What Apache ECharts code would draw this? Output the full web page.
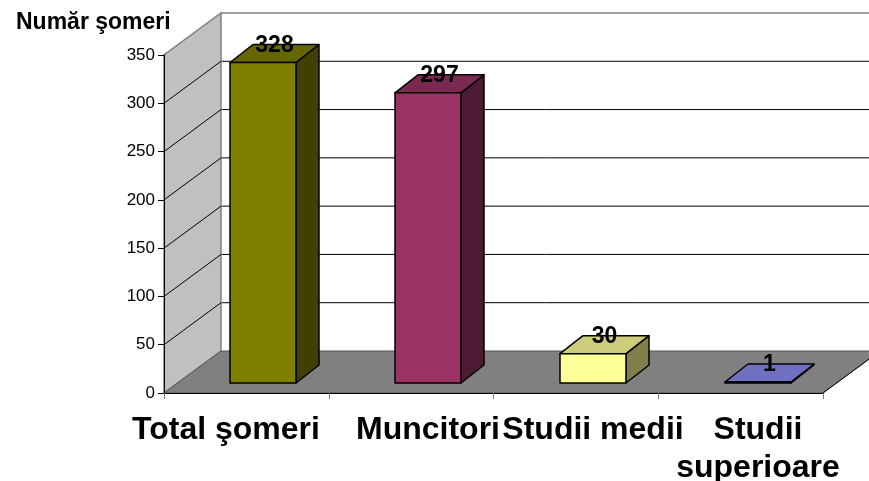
<!DOCTYPE html>
<html><head><meta charset="utf-8">
<script src="https://cdn.jsdelivr.net/npm/echarts/dist/echarts.min.js"></script>
<style>html,body{margin:0;padding:0;background:#fff}#c{width:869px;height:481px}</style>
</head><body><div id="c"></div>
<script>
const categories = ['Total şomeri', 'Muncitori', 'Studii medii', 'Studii superioare'];
const values = [328, 297, 30, 1];
const yMin = 0, yMax = 350, yStep = 50;
const frontColors = ['#808000', '#993366', '#ffff99', '#8c8cf2'];
const topColors = ['#666600', '#7a2952', '#cccc7a', '#7070c2'];
const sideColors = ['#404000', '#4d1a33', '#80804c', '#464679'];

const FONT = '"Liberation Sans", Arial, sans-serif';
const DX = 57, DY = -42;      // wall depth
const BDX = 23, BDY = -18;    // bar depth

const chart = echarts.init(document.getElementById('c'), null, {renderer: 'canvas'});

function wallsRender(params, api) {
  const cs = params.coordSys;
  const x0 = cs.x, xR = cs.x + cs.width;
  const y0 = api.coord([0, yMin])[1];
  const yT = api.coord([0, yMax])[1];
  const ch = [];
  ch.push({type: 'rect', shape: {x: x0 + DX, y: yT + DY, width: xR - x0 + 20, height: y0 - yT}, style: {fill: '#fff'}});
  for (let v = yMin + yStep; v < yMax; v += yStep) {
    const y = api.coord([0, v])[1];
    ch.push({type: 'line', shape: {x1: x0 + DX, y1: y + DY, x2: xR + DX + 20, y2: y + DY}, style: {stroke: '#000', lineWidth: 1}});
  }
  ch.push({type: 'line', shape: {x1: x0 + DX, y1: yT + DY, x2: xR + DX + 20, y2: yT + DY}, style: {stroke: '#808080', lineWidth: 1.5}});
  ch.push({type: 'polygon', shape: {points: [[x0, y0], [x0, yT], [x0 + DX, yT + DY], [x0 + DX, y0 + DY]]}, style: {fill: '#c0c0c0', stroke: '#808080', lineWidth: 1.5}});
  for (let v = yMin + yStep; v < yMax; v += yStep) {
    const y = api.coord([0, v])[1];
    ch.push({type: 'line', shape: {x1: x0, y1: y, x2: x0 + DX, y2: y + DY}, style: {stroke: '#000', lineWidth: 1}});
  }
  ch.push({type: 'polygon', shape: {points: [[x0, y0], [xR, y0], [xR + DX, y0 + DY], [x0 + DX, y0 + DY]]}, style: {fill: '#808080', stroke: '#555', lineWidth: 1}});
  ch.push({type: 'line', shape: {x1: xR, y1: y0, x2: xR + DX, y2: y0 + DY}, style: {stroke: '#000', lineWidth: 1}});
  return {type: 'group', children: ch};
}

function barRender(params, api) {
  const i = params.dataIndex;
  const p = api.coord([api.value(0), api.value(1)]);
  const b = api.coord([api.value(0), 0]);
  const w = api.size([1, 0])[0] * 0.4;
  const x1 = p[0] - w / 2, x2 = p[0] + w / 2, yt = p[1], yb = b[1];
  const s = {stroke: '#000', lineWidth: 1.5, lineJoin: 'round'};
  return {type: 'group', children: [
    {type: 'polygon', shape: {points: [[x2, yt], [x2 + BDX, yt + BDY], [x2 + BDX, yb + BDY], [x2, yb]]}, style: Object.assign({fill: sideColors[i]}, s)},
    {type: 'polygon', shape: {points: [[x1, yt], [x2, yt], [x2 + BDX, yt + BDY], [x1 + BDX, yt + BDY]]}, style: Object.assign({fill: topColors[i]}, s)},
    {type: 'rect', shape: {x: x1, y: yt, width: w, height: Math.max(yb - yt, 0.5)}, style: Object.assign({fill: frontColors[i]}, s)},
    {type: 'text', style: {text: String(api.value(1)), x: p[0] + BDX / 2, y: yt - 17, align: 'center', verticalAlign: 'middle', fill: '#000', font: 'bold 23px ' + FONT}}
  ]};
}

const option = {
  animation: false,
  backgroundColor: '#fff',
  title: {text: 'Număr şomeri', left: 11, top: 6, textStyle: {fontSize: 23, fontWeight: 'bold', color: '#000', fontFamily: FONT}},
  grid: [
    {left: 164, top: 55, width: 659, bottom: 88, containLabel: false, outerBoundsMode: 'none'},
    {left: 180.5, top: 41, width: 660, bottom: 98, containLabel: false, outerBoundsMode: 'none'}
  ],
  xAxis: [
    {gridIndex: 0, type: 'category', data: categories, boundaryGap: true, z: 10,
     axisLine: {show: true, lineStyle: {color: '#000', width: 1}},
     axisTick: {show: true, interval: 0, length: 6, lineStyle: {color: '#808080'}},
     axisLabel: {show: false}, splitLine: {show: false}},
    {gridIndex: 1, type: 'category', boundaryGap: true,
     data: categories.map((c, i) => i === 0 ? {value: c, textStyle: {padding: [0, 74, 0, 0]}} : c),
     axisLine: {show: false}, axisTick: {show: false}, splitLine: {show: false},
     axisLabel: {interval: 0, margin: 28, fontSize: 32, fontWeight: 'bold', color: '#000', fontFamily: FONT, lineHeight: 38,
       formatter: v => v.replace('Studii superioare', 'Studii\nsuperioare')}}
  ],
  yAxis: [
    {gridIndex: 0, type: 'value', min: yMin, max: yMax, interval: yStep, z: 10,
     axisLine: {show: true, lineStyle: {color: '#000', width: 1}},
     axisTick: {show: true, length: 6, lineStyle: {color: '#000'}},
     axisLabel: {margin: 9, fontSize: 17, color: '#000', fontFamily: FONT},
     splitLine: {show: false}},
    {gridIndex: 1, type: 'value', min: yMin, max: yMax, show: false, splitLine: {show: false}}
  ],
  series: [
    {type: 'custom', xAxisIndex: 0, yAxisIndex: 0, data: [[0, 0]], renderItem: wallsRender, silent: true, z: 1},
    {type: 'custom', xAxisIndex: 1, yAxisIndex: 1, data: values.map((v, i) => [i, v]), renderItem: barRender, z: 5}
  ]
};
chart.setOption(option);
</script>
</body></html>
